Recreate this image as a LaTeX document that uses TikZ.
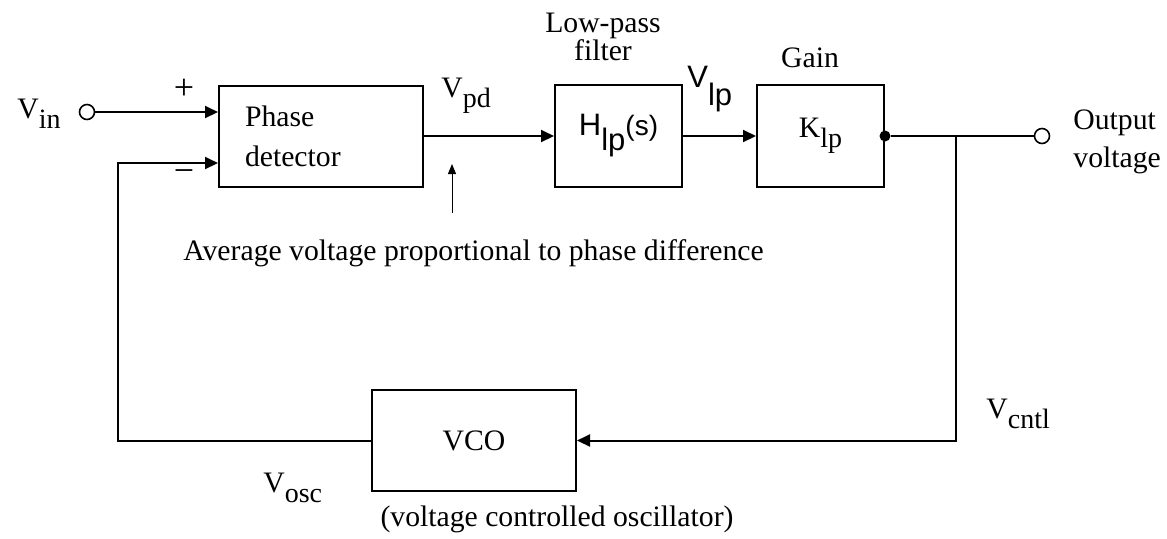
\documentclass[tikz,border=0pt]{standalone}
\usepackage{fontspec}
\setmainfont{Liberation Serif}
\newfontfamily\arialfont{Liberation Sans}
\usetikzlibrary{arrows.meta,positioning}
\newcommand{\lsub}[1]{\raisebox{-5pt}{\fontsize{14}{14}\selectfont #1}}

\begin{document}
\begin{tikzpicture}[x=0.5pt,y=-0.5pt, every node/.style={font=\fontsize{14.85}{20}\selectfont}, b/.style={draw,line width=1pt,minimum width=102pt,minimum height=50.5pt,inner sep=0pt}, sb/.style={b,minimum width=63.5pt,minimum height=51pt}, arr/.style={-{Triangle[length=6.5pt,width=6pt]},line width=1pt}, port/.style={circle,draw,line width=0.8pt,fill=white,minimum size=7.5pt,inner sep=0pt}, lbl/.style={inner sep=0pt}]
\useasboundingbox (0,0) rectangle (1167,538);
% blocks
\node[b,align=left,text width=76pt] (pd) at (321,136) {Phase\\detector};
\node[sb,right=65pt of pd] (hlp) {{\arialfont\fontsize{15.5}{16}\selectfont H\raisebox{-7.5pt}{lp}\fontsize{14}{14}\selectfont(s)}};
\node[sb,right=36.5pt of hlp] (klp) {K\lsub{lp}};
\node[b] (vco) at (474,440.5) {VCO};
\node[port] (vin) at (87,112) {};
\node[port] (vout) at (1042,136) {};
\node[circle,fill,inner sep=0pt,minimum size=5.5pt] (jn) at (klp.east) {};
\coordinate (tap) at (956,136);
\coordinate (fb) at (118,163);
\coordinate (ptail) at (452,213);
\coordinate (ptip) at (452,164);
% wires
\draw[arr] (vin) -- (vin -| pd.west);
\draw[arr] (vco.west) -| (fb) -- (fb -| pd.west);
\draw[arr] (pd) -- (hlp);
\draw[arr] (hlp) -- (klp);
\draw[line width=1pt] (jn) -- (vout);
\draw[arr] (tap) |- (vco.east);
\draw[-{Triangle[length=5pt,width=4pt]},line width=0.5pt] (ptail) -- (ptip);
% labels
\node[lbl,anchor=base west] (vinl) at (17,118) {V\lsub{in}};
\node[lbl,font=\fontsize{18}{18}\selectfont] (plus) at (184,89) {+};
\node[lbl,font=\fontsize{18}{18}\selectfont] (minus) at (184,176) {−};
\node[lbl,anchor=base west] (vpdl) at (441,97) {V\lsub{pd}};
\node[lbl,align=center,anchor=base,font=\fontsize{14.85}{14}\selectfont] (lpfl) at (603,60) {Low-pass\\filter};
\node[lbl,anchor=base] (gainl) at (810,67) {Gain};
\node[lbl,anchor=base west] (vlpl) at (687,87) {\arialfont\fontsize{15.5}{16}\selectfont V\raisebox{-9pt}{lp}};
\node[lbl,anchor=base west,align=left,font=\fontsize{14.85}{19}\selectfont] (outl) at (1073,167) {Output\\voltage};
\node[lbl,anchor=base west] (avgl) at (183,260) {Average voltage proportional to phase difference};
\node[lbl,anchor=base west] (vcntl) at (986,418) {V\lsub{cntl}};
\node[lbl,anchor=base west] (voscl) at (263,492) {V\lsub{osc}};
\node[lbl,anchor=base] (vcol) at (557,526) {(voltage controlled oscillator)};
\end{tikzpicture}
\end{document}
